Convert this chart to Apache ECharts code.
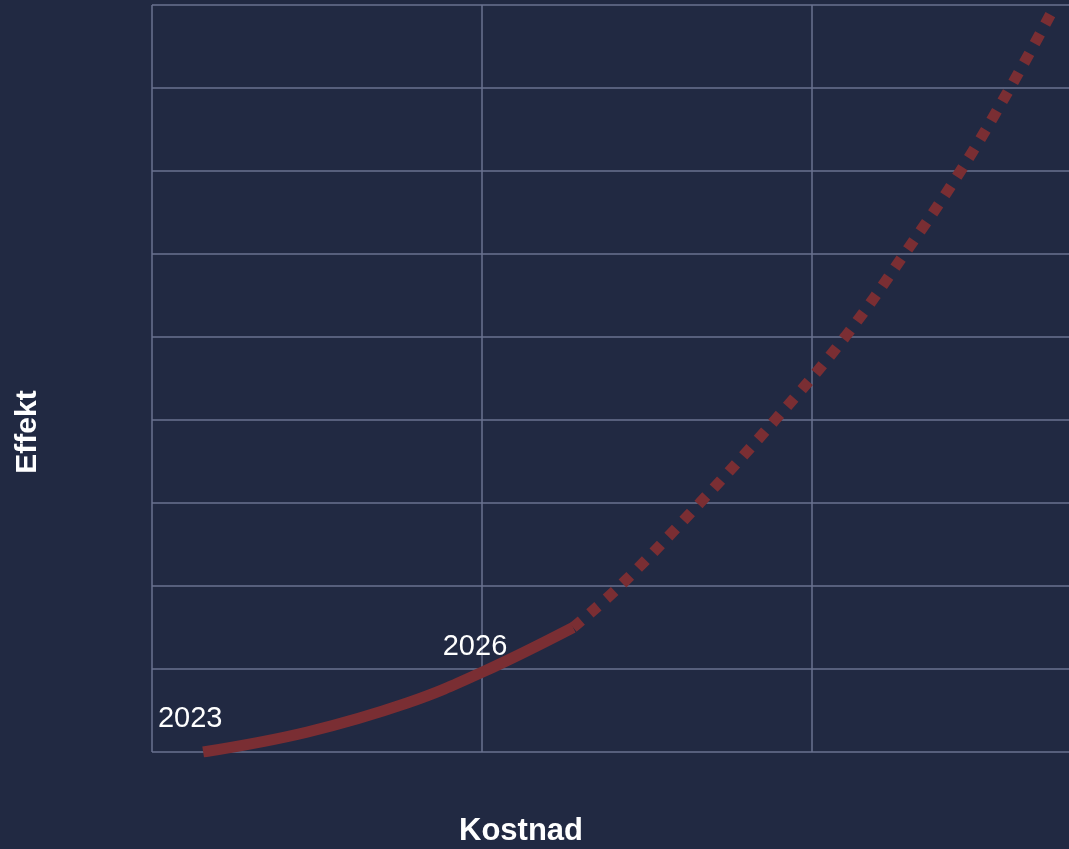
<!DOCTYPE html>
<html>
<head>
<meta charset="utf-8">
<script src="https://cdn.jsdelivr.net/npm/echarts@6/dist/echarts.min.js"></script>
<style>
html,body{margin:0;padding:0;background:#212942;}
#chart{width:1069px;height:849px;}
</style>
</head>
<body>
<div id="chart"></div>
<script>
// Data (Kostnad on x, Effekt on y, relative units)
const solidPoints = [[0.155, 0], [0.47, 0.24], [0.773, 0.59], [1.0, 0.96], [1.276, 1.5]];
const dashedPoints = [[1.276, 1.5], [1.418, 2], [1.66, 3], [1.888, 4], [2.1, 5], [2.28, 6], [2.45, 7], [2.6, 8], [2.727, 8.92]];
const yearLabels = ['2023', '2026'];
const yearPoints = [[0.155, 0], [1.0, 0.96]];
const xTitle = 'Kostnad';
const yTitle = 'Effekt';
const xMax = 2.7788; // visible part of the x range (plot is cropped at the right edge)

const chart = echarts.init(document.getElementById('chart'));
const lineColor = '#7a2e33';
const gridColor = '#6a7290';
const labelOffsets = [[-13, -33], [-7, -25]];

chart.setOption({
  backgroundColor: '#212942',
  animation: false,
  grid: { left: 152, top: 5, bottom: 97, right: 0, containLabel: false },
  xAxis: {
    type: 'value', min: 0, max: xMax, interval: 1,
    axisLine: { show: false }, axisTick: { show: false }, axisLabel: { show: false },
    splitLine: { show: true, showMaxLine: false, lineStyle: { color: gridColor, width: 1.5 } }
  },
  yAxis: {
    type: 'value', min: 0, max: 9, interval: 1,
    axisLine: { show: false }, axisTick: { show: false }, axisLabel: { show: false },
    splitLine: { show: true, lineStyle: { color: gridColor, width: 1.5 } }
  },
  graphic: [
    { type: 'text', left: 459, top: 816, style: { text: xTitle, fill: '#ffffff', font: 'bold 31px "Liberation Sans", Arial, sans-serif' } },
    { type: 'text', x: 28, y: 432, rotation: Math.PI / 2,
      style: { text: yTitle, fill: '#ffffff', font: 'bold 30px "Liberation Sans", Arial, sans-serif', align: 'center', verticalAlign: 'middle' } }
  ],
  series: [
    {
      type: 'line', data: solidPoints, smooth: 0.4, showSymbol: false,
      lineStyle: { color: lineColor, width: 11, cap: 'butt' }
    },
    {
      type: 'line', data: dashedPoints, smooth: 0.4, showSymbol: false,
      lineStyle: { color: lineColor, width: 11, type: [11, 11], cap: 'butt' }
    },
    {
      type: 'scatter', symbolSize: 0, itemStyle: { color: lineColor, opacity: 1 },
      z: 5,
      data: yearPoints.map((p, i) => ({
        value: p,
        label: {
          show: true, formatter: yearLabels[i], position: 'inside', offset: labelOffsets[i],
          color: '#ffffff', fontSize: 29, fontFamily: '"Liberation Sans", Arial, sans-serif'
        }
      }))
    }
  ]
});
</script>
</body>
</html>
